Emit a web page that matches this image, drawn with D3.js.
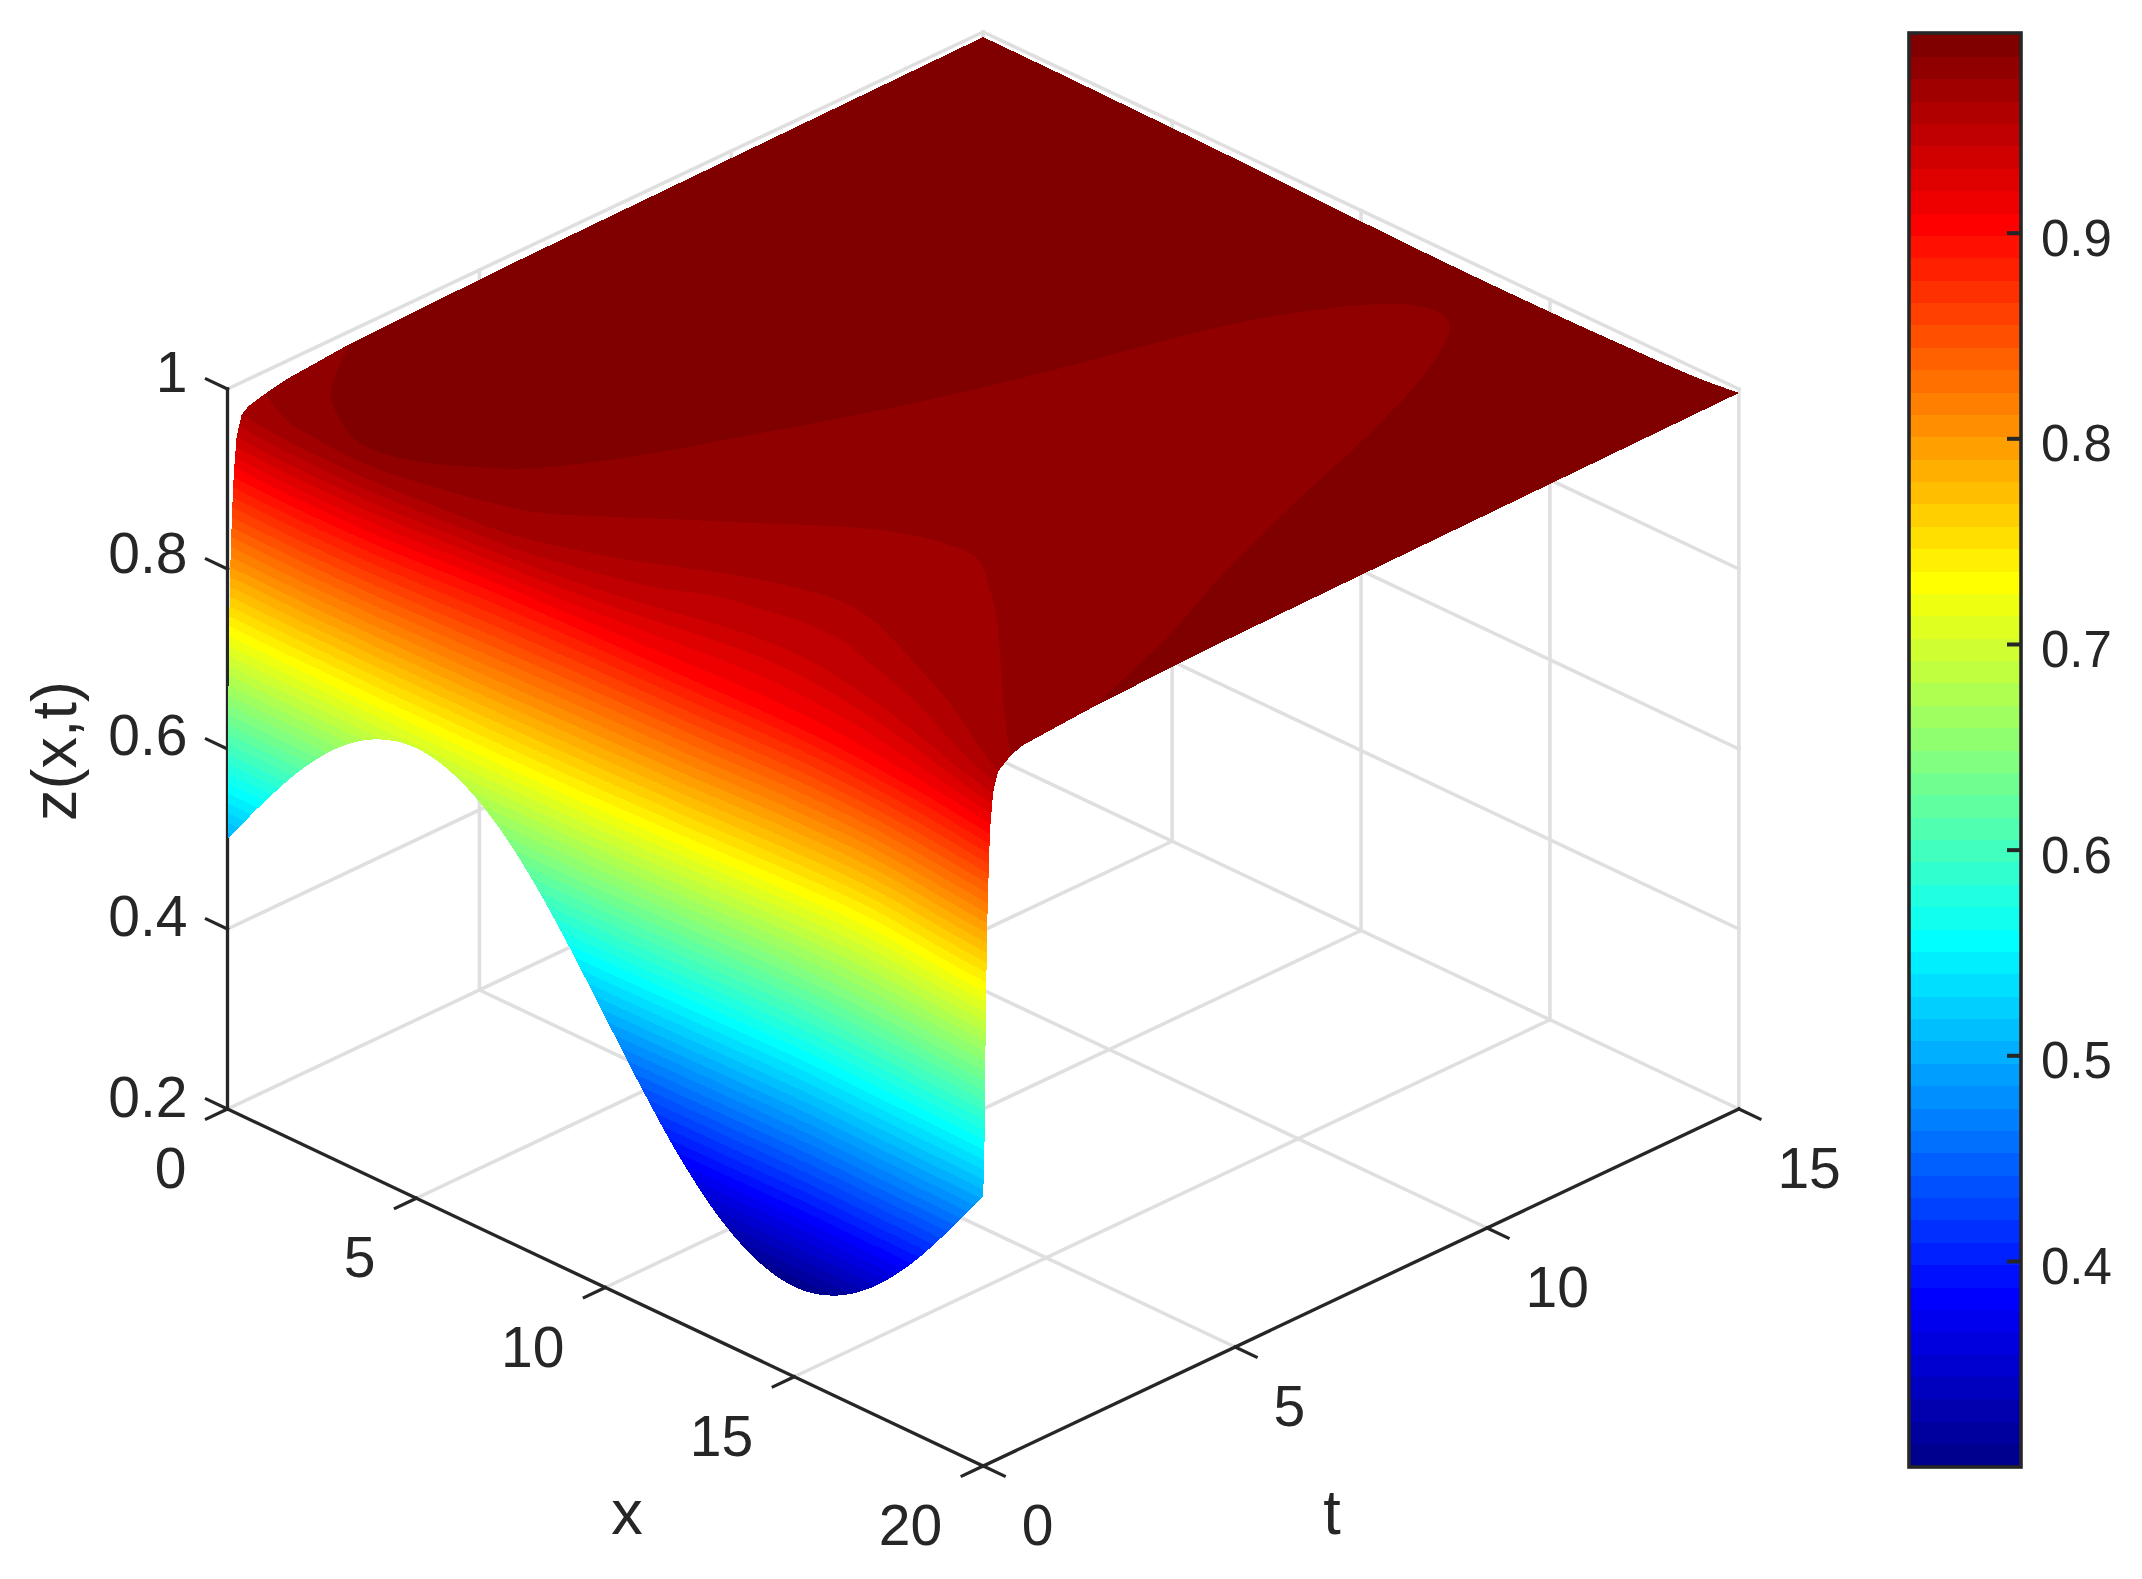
<!DOCTYPE html>
<html>
<head>
<meta charset="utf-8">
<style>
html,body{margin:0;padding:0;background:#fff;}
svg{display:block;}
text{font-family:"Liberation Sans",Arial,sans-serif;fill:#262626;}
</style>
<script src="https://cdn.jsdelivr.net/npm/d3@7"></script>
</head>
<body>
<svg id="chart" width="2142" height="1579"></svg>
<script>
// ---- tick labels
const xTicks = [0, 5, 10, 15, 20];
const tTicks = [0, 5, 10, 15];
const zTicks = [0.2, 0.4, 0.6, 0.8, 1];
const zTickLabels = ["0.2", "0.4", "0.6", "0.8", "1"];
const barTicks = [0.4, 0.5, 0.6, 0.7, 0.8, 0.9];

// ---- surface values
// x positions of the columns
const xNodes = [0,1,2,3,4,5,6,7,8,9,10,11,12,13,14,15,16,17,18,19,20];
// z along the front edge, t = 0
const zStart = [.5,.562,.618,.662,.69,.7,.69,.662,.618,.562,.5,.438,.382,.338,.31,.3,.31,.338,.382,.438,.5];
// z along the back edge, t = 15
const zFinal = [.9944,.9942,.994,.9935,.993,.9925,.992,.991,.99,.989,.988,.987,.9865,.9862,.9862,.9865,.987,.988,.989,.991,.9956];
// z levels whose contours were read, and the t where each column reaches them
const zLevels = [.35,.4,.45,.5,.555,.64,.73,.8,.86,.903,.942,.953,.964,.97,.975,.98,.9857,.99];
const tAt035 = [0,0,0,0,0,0,0,0,0,0,0,0,0,.005,.012,.017,.012,.005,0,0,0];
const tAt040 = [0,0,0,0,0,0,0,0,0,0,0,0,.004,.012,.022,.03,.024,.014,.006,0,0];
const tAt045 = [0,0,0,0,0,0,0,0,0,0,0,.003,.012,.024,.036,.045,.038,.026,.016,.004,0];
const tAt050 = [0,0,0,0,0,0,0,0,0,0,0,.01,.024,.04,.055,.065,.056,.042,.03,.015,0];
const tAt055 = [.006,0,0,0,0,0,0,0,0,0,.012,.03,.05,.072,.09,.105,.095,.075,.06,.04,.025];
const tAt064 = [.015,.006,.002,0,0,0,0,0,.006,.015,.03,.06,.085,.12,.15,.17,.165,.14,.11,.07,.04];
const tAt073 = [.03,.02,.014,.01,.008,.012,.014,.022,.03,.045,.07,.1,.13,.17,.21,.245,.27,.25,.18,.11,.06];
const tAt080 = [.055,.04,.03,.03,.035,.05,.065,.085,.11,.14,.165,.195,.22,.26,.3,.32,.33,.3,.23,.15,.08];
const tAt086 = [.09,.07,.06,.065,.085,.12,.16,.2,.23,.26,.28,.3,.32,.35,.38,.39,.37,.33,.27,.19,.11];
const tAt090 = [.125,.1,.09,.1,.13,.19,.26,.31,.34,.37,.39,.41,.43,.46,.47,.47,.44,.38,.32,.23,.135];
const tAt094 = [.18,.13,.115,.12,.15,.21,.28,.35,.43,.55,.7,.88,1.05,1.15,1.15,1.05,.92,.75,.55,.35,.195];
const tAt095 = [.23,.16,.14,.14,.17,.23,.3,.38,.52,.72,.95,1.35,1.55,1.7,1.7,1.5,1.3,1.05,.75,.47,.24];
const tAt096 = [.28,.2,.17,.17,.2,.27,.34,.45,.7,1,1.4,1.8,2.1,2.3,2.25,2,1.7,1.4,1.05,.65,.3];
const tAt0970 = [.42,.29,.22,.21,.26,.37,.5,.7,1.1,1.55,2.05,2.55,2.95,3.2,3.2,2.85,2.4,1.9,1.4,.9,.43];
const tAt0975 = [.75,.42,.3,.26,.33,.5,.7,1,1.6,2.24,2.85,3.5,4.05,4.35,4.4,3.9,3.3,2.6,1.9,1.2,.55];
const tAt0980 = [1.2,.75,.5,.33,.42,.72,1.1,1.8,2.9,4,5.2,6.5,7.5,8,8,7.2,6.2,4.9,3.7,2.4,.78];
const tAt0986 = [2.4,1.3,.72,.42,.55,1,1.7,3,4.7,6.5,8.7,11.3,12.9,13.75,13.7,12.5,10.6,8.3,6.2,4.4,2.2];
const tAt0990 = [5.5,4.5,4,4.5,5.5,7,9,12,15,15,15,15,15,15,15,15,15,15,15,10.5,4.5];
const tRows = [tAt035,tAt040,tAt045,tAt050,tAt055,tAt064,tAt073,tAt080,tAt086,tAt090,tAt094,tAt095,tAt096,tAt0970,tAt0975,tAt0980,tAt0986,tAt0990];

// colour limits of the surface and colour bar
const cLimits = [0.3003, 0.9966];
const bandCount = 64;

// ---- scales: the view is an oblique projection of (x, t, z)
const xDomain = [0, 20], tDomain = [0, 15], zDomain = [0.2, 1];
const sxX = d3.scaleLinear().domain(xDomain).range([0, 755.7]);
const sxT = d3.scaleLinear().domain(tDomain).range([0, 755.7]);
const syX = d3.scaleLinear().domain(xDomain).range([0, 357]);
const syT = d3.scaleLinear().domain(tDomain).range([0, -357]);
const syZ = d3.scaleLinear().domain(zDomain).range([0, -720]);
const originX = 227.5, originY = 1109;
const P = (x, t, z) => [originX + sxX(x) + sxT(t), originY + syX(x) + syT(t) + syZ(z)];

// MATLAB jet with 64 steps
const jetStop = d3.scaleLinear().domain([1, 8, 24, 40, 56, 64])
  .range(["#00008f", "#0000ff", "#00ffff", "#ffff00", "#ff0000", "#800000"])
  .interpolate(d3.interpolateRgb);
const bandColors = d3.range(1, bandCount + 1).map(k => d3.rgb(jetStop(k)).formatHex());
const zBand = d3.scaleLinear().domain([0, bandCount]).range(cLimits);

const svg = d3.select("#chart");
const DARK = "#262626", GRID = "#dfdfdf";

function seg(g, a, b, color, w) {
  g.append("line").attr("x1", a[0]).attr("y1", a[1]).attr("x2", b[0]).attr("y2", b[1])
    .attr("stroke", color).attr("stroke-width", w).attr("stroke-linecap", "square");
}

// ---- grid on floor and back walls
const grid = svg.append("g").attr("class", "grid");
const [x0, x1] = xDomain, [t0, t1] = tDomain, [z0, z1] = zDomain;
xTicks.forEach(x => {
  seg(grid, P(x, t0, z0), P(x, t1, z0), GRID, 3.5);
  seg(grid, P(x, t1, z0), P(x, t1, z1), GRID, 3.5);
});
tTicks.forEach(t => {
  seg(grid, P(x0, t, z0), P(x1, t, z0), GRID, 3.5);
  if (t !== t0) seg(grid, P(x0, t, z0), P(x0, t, z1), GRID, 3.5);
});
zTicks.forEach(z => {
  if (z === z0) return;
  seg(grid, P(x0, t0, z), P(x0, t1, z), GRID, 3.5);
  seg(grid, P(x0, t1, z), P(x1, t1, z), GRID, 3.5);
});

// ---- axes lines and ticks
const axes = svg.append("g").attr("class", "axes");
const AXW = 3.3;
seg(axes, P(x0, t0, z0), P(x1, t0, z0), DARK, AXW);
seg(axes, P(x1, t0, z0), P(x1, t1, z0), DARK, AXW);
seg(axes, P(x0, t0, z0), P(x0, t0, z1), DARK, AXW);
const tickLenT = 0.417, tickLenX = 0.556;
xTicks.forEach(x => seg(axes, P(x, t0, z0), P(x, t0 - tickLenT, z0), DARK, AXW));
tTicks.forEach(t => seg(axes, P(x1, t, z0), P(x1 + tickLenX, t, z0), DARK, AXW));
zTicks.forEach(z => seg(axes, P(x0, t0, z), P(x0 - tickLenX, t0, z), DARK, AXW));

// ---- surface, one polygon per colour band
function smooth(values, x) {
  const n = values.length - 1;
  const i = Math.min(Math.floor(x), n - 1), u = x - i;
  const v0 = values[i], v1 = values[i + 1];
  const m0 = i === 0 ? v1 - v0 : (v1 - values[i - 1]) / 2;
  const m1 = i === n - 1 ? v1 - v0 : (values[i + 2] - v0) / 2;
  const u2 = u * u, u3 = u2 * u;
  return (2*u3 - 3*u2 + 1)*v0 + (u3 - 2*u2 + u)*m0 + (-2*u3 + 3*u2)*v1 + (u3 - u2)*m1;
}
const xs = d3.range(0, 400 + 1).map(i => i / 20);
const columns = xs.map(x => {
  const a = smooth(zStart, x), b = smooth(zFinal, x);
  const zs = [a], ts = [t0];
  zLevels.forEach((L, k) => {
    if (L > a + 1e-5 && L < b) {
      zs.push(L);
      ts.push(Math.min(t1, Math.max(ts[ts.length - 1], smooth(tRows[k], x))));
    }
  });
  zs.push(b); ts.push(t1);
  return {x, zs, ts, toT: d3.scaleLinear().domain(zs).range(ts).clamp(true), lo: a, hi: b};
});
function surfacePoint(col, z) {
  const zc = Math.max(col.lo, Math.min(col.hi, z));
  return P(col.x, col.toT(zc), zc);
}
const surface = svg.append("g").attr("class", "surface").attr("shape-rendering", "crispEdges");
const pathOf = d3.line();
d3.range(bandCount).forEach(k => {
  let lo = zBand(k), hi = zBand(k + 1);
  if (k === 0) lo = 0;
  if (k === bandCount - 1) hi = 1;
  const sub = d3.range(0, 25).map(i => Math.max(.29, lo) + (hi - Math.max(.29, lo)) * i / 24);
  const last = columns[columns.length - 1], first = columns[0];
  const pts = [];
  columns.forEach(c => pts.push(surfacePoint(c, lo)));
  sub.forEach(z => pts.push(surfacePoint(last, z)));
  for (let i = columns.length - 1; i >= 0; i--) pts.push(surfacePoint(columns[i], hi));
  sub.slice().reverse().forEach(z => pts.push(surfacePoint(first, z)));
  surface.append("path").attr("d", pathOf(pts) + "Z").attr("fill", bandColors[k]).attr("stroke", "none");
});

// ---- tick labels
const labels = svg.append("g").attr("class", "labels").attr("font-size", 57);
const capMid = 20;
const zLabelShift = d3.scaleLinear().domain(zDomain).range([-12, -17]);
xTicks.forEach(x => {
  const p = P(x, t0, z0);
  labels.append("text").attr("x", p[0] - 41).attr("y", p[1] + 59 + capMid).attr("text-anchor", "end").text(x);
});
tTicks.forEach(t => {
  const p = P(x1, t, z0);
  labels.append("text").attr("x", p[0] + 38.5).attr("y", p[1] + 59 + capMid).attr("text-anchor", "start").text(t);
});
zTicks.forEach((z, i) => {
  const p = P(x0, t0, z);
  labels.append("text").attr("x", p[0] - 40).attr("y", p[1] + zLabelShift(z) + capMid).attr("text-anchor", "end").text(zTickLabels[i]);
});
svg.append("text").attr("x", 627).attr("y", 1534).attr("text-anchor", "middle").attr("font-size", 63).text("x");
svg.append("text").attr("x", 1332).attr("y", 1534).attr("text-anchor", "middle").attr("font-size", 63).text("t");
svg.append("text").attr("transform", "translate(76,751) rotate(-90)").attr("text-anchor", "middle").attr("font-size", 63).text("z(x,t)");

// ---- colour bar
const barY = d3.scaleLinear().domain(cLimits).range([1466, 34]);
const barX = [1909, 2021];
const bar = svg.append("g").attr("class", "colorbar");
bar.append("g").attr("shape-rendering", "crispEdges").selectAll("rect").data(bandColors).join("rect")
  .attr("x", barX[0]).attr("width", barX[1] - barX[0])
  .attr("y", (c, i) => barY(zBand(i + 1)))
  .attr("height", (c, i) => barY(zBand(i)) - barY(zBand(i + 1)) + 0.5)
  .attr("fill", c => c);
const barAxis = d3.axisRight(barY).tickValues(barTicks).tickFormat(d3.format(".1f")).tickSize(-14).tickPadding(20);
const barG = bar.append("g").attr("transform", `translate(${barX[1]},0)`).call(barAxis);
barG.select(".domain").remove();
barG.selectAll(".tick line").attr("stroke", DARK).attr("stroke-width", 4);
barG.selectAll(".tick text").attr("font-size", 51).attr("font-family", '"Liberation Sans",Arial,sans-serif')
  .attr("fill", DARK).attr("dy", "0.44em");
bar.append("rect").attr("x", barX[0]).attr("y", 33).attr("width", barX[1] - barX[0]).attr("height", 1434)
  .attr("fill", "none").attr("stroke", DARK).attr("stroke-width", 3.6);
</script>
</body>
</html>
